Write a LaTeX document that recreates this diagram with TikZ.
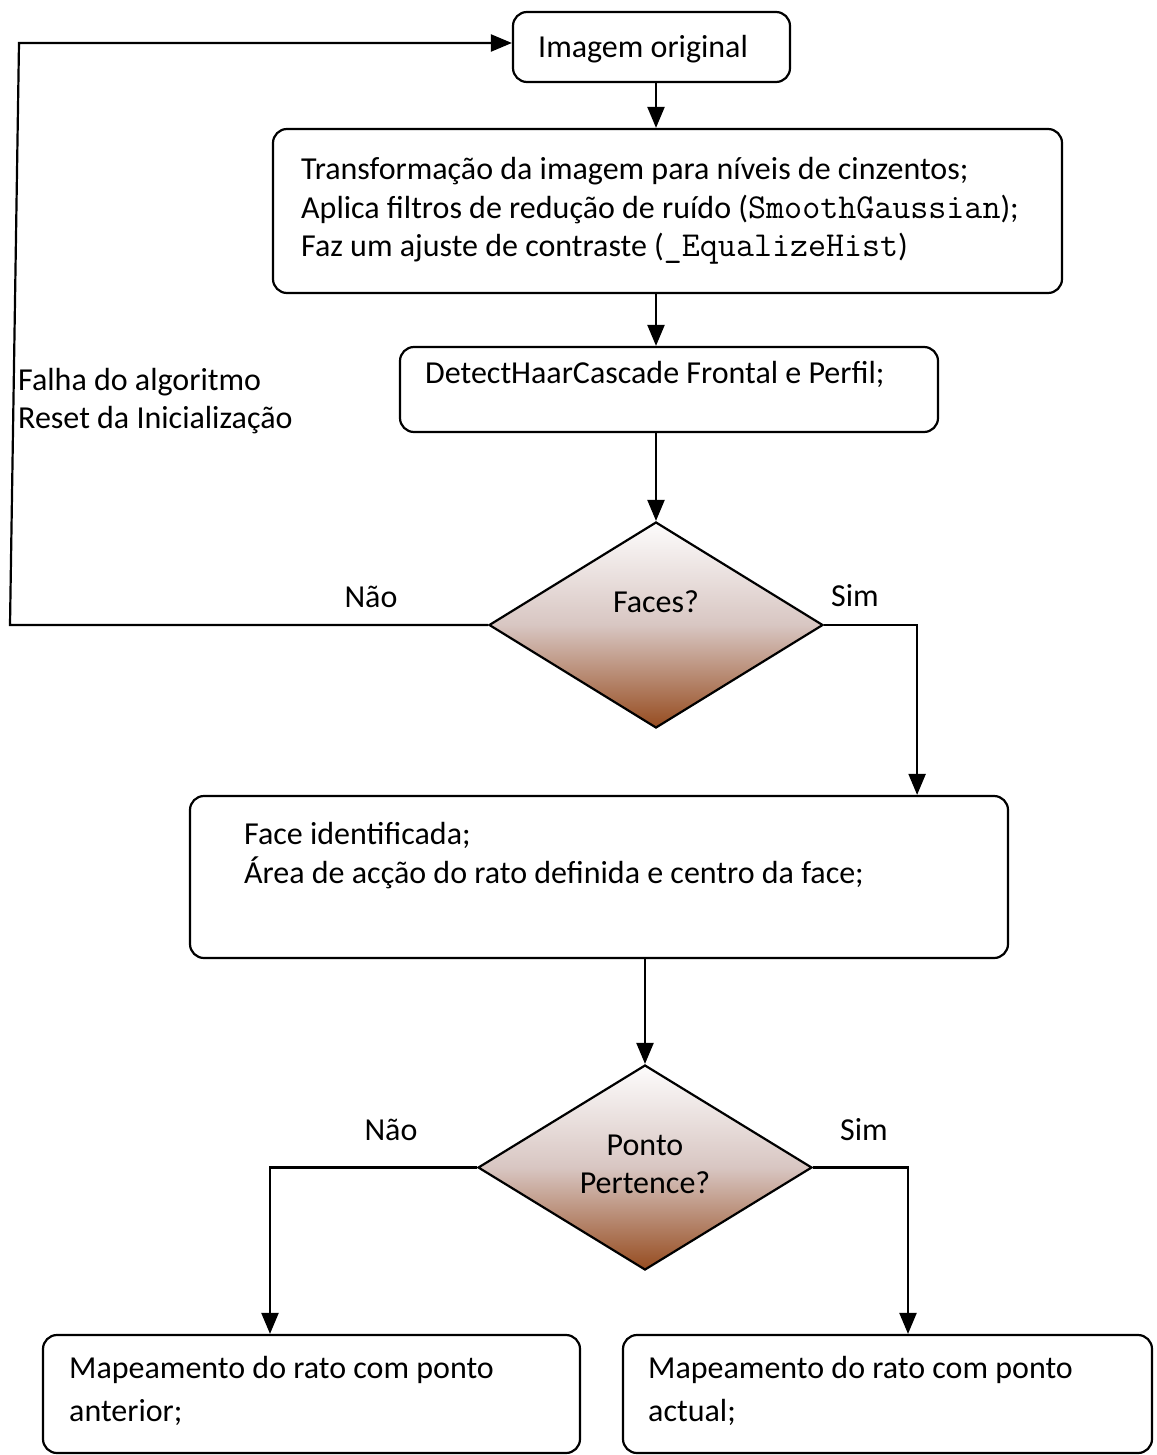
\documentclass[tikz,border=0pt]{standalone}
\usepackage{fontspec}
\setmainfont{Carlito}
\usetikzlibrary{shapes.geometric,arrows.meta,calc}
\definecolor{dtop}{RGB}{253,252,252}
\definecolor{dmid}{RGB}{216,198,194}
\definecolor{dbot}{RGB}{150,76,32}
\newcommand{\sansf}{\fontsize{32}{39}\selectfont}
\newcommand{\monof}{\fontsize{35}{39}\selectfont\ttfamily}
\begin{document}
\begin{tikzpicture}[x=1pt,y=-1pt,
 box/.style={draw,line width=2.2pt,rounded corners=14pt,inner sep=0pt,fill=white},
 dec/.style={draw,line width=2.2pt,shape=diamond,inner sep=0pt,top color=dtop,bottom color=dbot,middle color=dmid},
 txt/.style={anchor=base west,inner sep=0pt,font=\sansf},
 ctxt/.style={anchor=base,inner sep=0pt,font=\sansf},
 conn/.style={line width=2.2pt},
 arr/.style={conn,-{Triangle[length=21pt,width=17pt]}}]
\useasboundingbox (0,0) rectangle (1156,1455);
% boxes
\node[box,minimum width=277pt,minimum height=70pt] (b1) at (651.5,47) {};
\node[txt] (t1) at (538,58) {Imagem original};
\node[box,minimum width=789pt,minimum height=164pt] (b2) at (667.5,211) {};
\node[txt] (t2a) at (301,180) {Transformação da imagem para níveis de cinzentos;};
\node[txt] (t2b) at (301,219) {Aplica filtros de redução de ruído ({\monof SmoothGaussian});};
\node[txt] (t2c) at (301,257) {Faz um ajuste de contraste ({\monof\_EqualizeHist})};
\node[box,minimum width=538pt,minimum height=85pt] (b3) at (669,389.5) {};
\node[txt] (t3) at (425,383) {DetectHaarCascade Frontal e Perfil;};
\node[dec,minimum width=334pt,minimum height=206pt] (d1) at (656,625) {};
\node[ctxt] (t4) at (656,612) {Faces?};
\node[box,minimum width=818pt,minimum height=162pt] (b4) at (599,877) {};
\node[txt] (t5a) at (244,844) {Face identificada;};
\node[txt] (t5b) at (244,883) {Área de acção do rato definida e centro da face;};
\node[dec,minimum width=334pt,minimum height=205pt] (d2) at (645,1167.5) {};
\node[ctxt] (t6a) at (645,1155) {Ponto};
\node[ctxt] (t6b) at (645,1193) {Pertence?};
\node[box,minimum width=537pt,minimum height=118pt] (b5) at (311.5,1394) {};
\node[txt] (t7a) at (69,1378) {Mapeamento do rato com ponto};
\node[txt] (t7b) at (69,1421) {anterior;};
\node[box,minimum width=529pt,minimum height=118pt] (b6) at (887.5,1394) {};
\node[txt] (t8a) at (648,1378) {Mapeamento do rato com ponto};
\node[txt] (t8b) at (648,1421) {actual;};
% labels
\node[ctxt] (l1) at (371,607) {Não};
\node[ctxt] (l2) at (855,606) {Sim};
\node[ctxt] (l3) at (391,1140) {Não};
\node[ctxt] (l4) at (864,1140) {Sim};
\node[txt] (l5) at (18,390) {Falha do algoritmo};
\node[txt] (l6) at (18,428) {Reset da Inicialização};
% connectors
\coordinate (fa) at (10,625);
\coordinate (fb) at (19,43);
\draw[arr] (d1.west) -- (fa) -- (fb) -- (fb -| b1.west);
\draw[arr] (b1.south -| d1.north) -- (b2.north -| d1.north);
\draw[arr] (b2.south -| d1.north) -- (b3.north -| d1.north);
\draw[arr] (b3.south -| d1.north) -- (d1.north);
\draw[arr] (d1.east) -| ([xshift=-92pt]b4.north east);
\draw[arr] (b4.south -| d2.north) -- (d2.north);
\draw[arr] (d2.west) -| ([xshift=-41.5pt]b5.north);
\draw[arr] (d2.east) -| ([xshift=20.5pt]b6.north);
\end{tikzpicture}
\end{document}
